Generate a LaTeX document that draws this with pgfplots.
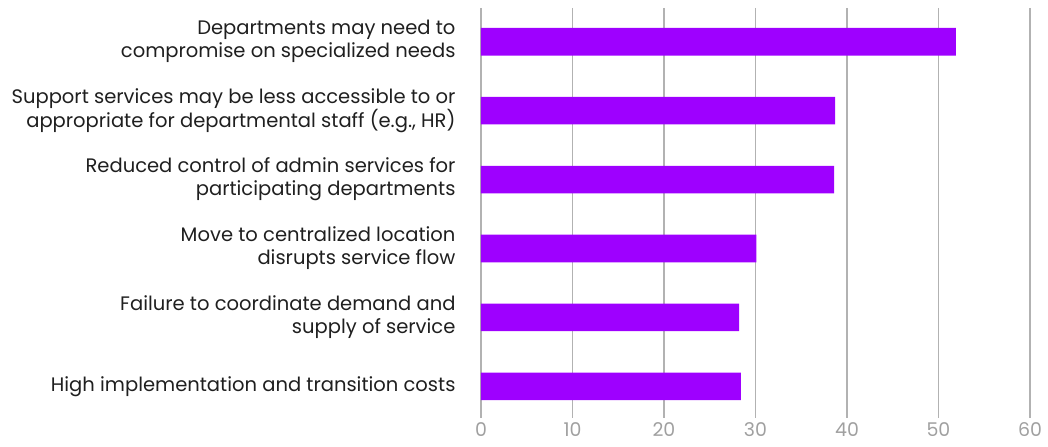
\documentclass[border=0pt]{standalone}
\usepackage{fontspec}
\setmainfont{Poppins}
\usepackage{pgfplots}
\pgfplotsset{compat=1.18}
\definecolor{barpurple}{RGB}{158,0,255}
\definecolor{gridgray}{RGB}{178,178,178}
\definecolor{tickgray}{RGB}{160,160,160}
\begin{document}
\begin{tikzpicture}
\begin{axis}[
  at={(0,0)}, anchor=south west,
  scale only axis,
  width=549bp, height=410bp,
  xmin=0, xmax=60,
  ymin=-0.49, ymax=5.46,
  y dir=reverse,
  xtick={0,10,...,60},
  ytick={0,1,2,3,4,5},
  yticklabels={
    {Departments may need to\\compromise on specialized needs},
    {Support services may be less accessible to or\\appropriate for departmental staff (e.g., HR)},
    {Reduced control of admin services for\\participating departments},
    {Move to centralized location\\disrupts service flow},
    {Failure to coordinate demand and\\supply of service},
    {High implementation and transition costs}
  },
  axis line style={draw=none},
  major tick length=0pt,
  xmajorgrids,
  grid style={draw=gridgray, line width=1.1bp},
  /pgf/number format/assume math mode=true,
  xticklabel style={font=\fontsize{19}{21}\selectfont, text=tickgray, anchor=north, inner sep=0pt, yshift=-4bp},
  yticklabel style={font=\fontsize{19.6}{23}\selectfont, align=right, text=black!88, xshift=-22bp},
  bar width=0.4,
  xbar,
]
\addplot[fill=barpurple, draw=none] coordinates {
  (51.9,0) (38.7,1) (38.6,2) (30.1,3) (28.2,4) (28.4,5)
};
\end{axis}
\pgfresetboundingbox
\path (-481bp,-29bp) rectangle (567bp,418bp);
\end{tikzpicture}
\end{document}
